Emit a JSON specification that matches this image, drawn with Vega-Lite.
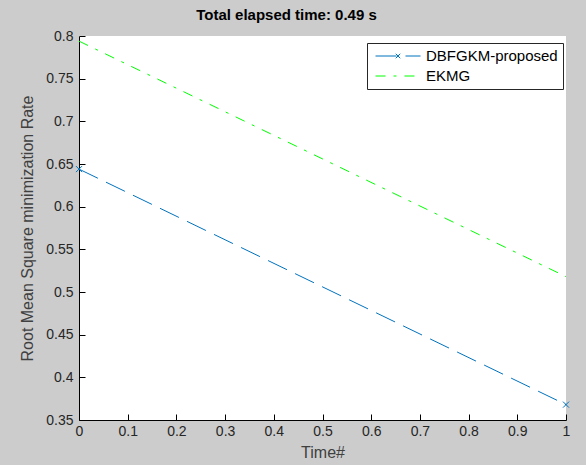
{
"$schema": "https://vega.github.io/schema/vega-lite/v6.json",
"width": 487,
"height": 384,
"autosize": {"type": "none"},
"padding": {"left": 79, "top": 36, "right": 20, "bottom": 45},
"background": "#cccccc",
"config": {"view": {"fill": "white", "stroke": null}, "font": "Liberation Sans"},
"title": {"text": "Total elapsed time: 0.49 s", "fontSize": 15, "fontWeight": "bold", "color": "#000000", "font": "Liberation Sans", "offset": 6, "dx": -36},
"data": {"values": [
 {"t": 0, "rate": 0.644, "method": "DBFGKM-proposed"},
 {"t": 1, "rate": 0.368, "method": "DBFGKM-proposed"},
 {"t": 0, "rate": 0.794, "method": "EKMG"},
 {"t": 1, "rate": 0.518, "method": "EKMG"}
]},
"layer": [
 {
  "mark": {"type": "line", "strokeWidth": 1, "clip": true},
  "encoding": {
   "x": {"field": "t", "type": "quantitative", "title": "Time#",
     "scale": {"domain": [0, 1], "nice": false, "zero": false},
     "axis": {"values": [0,0.1,0.2,0.3,0.4,0.5,0.6,0.7,0.8,0.9,1], "format": "~g", "grid": false, "labelFlush": false,
       "domainColor": "#000000", "tickColor": "#000000", "tickSize": -6, "labelPadding": 10,
       "labelFont": "Liberation Sans", "labelFontSize": 14, "labelColor": "#262626",
       "titleFont": "Liberation Sans", "titleFontSize": 16, "titleFontWeight": "normal", "titleColor": "#404040", "titlePadding": 6}},
   "y": {"field": "rate", "type": "quantitative", "title": "Root Mean Square minimization Rate",
     "scale": {"domain": [0.35, 0.8], "nice": false, "zero": false},
     "axis": {"values": [0.35,0.4,0.45,0.5,0.55,0.6,0.65,0.7,0.75,0.8], "format": "~g", "grid": false, "labelFlush": false,
       "domainColor": "#000000", "tickColor": "#000000", "tickSize": -6, "labelPadding": 12,
       "labelFont": "Liberation Sans", "labelFontSize": 14, "labelColor": "#262626",
       "titleFont": "Liberation Sans", "titleFontSize": 16, "titleFontWeight": "normal", "titleColor": "#404040", "titlePadding": 10}},
   "color": {"field": "method", "type": "nominal",
     "scale": {"domain": ["DBFGKM-proposed", "EKMG"], "range": ["#0072BD", "#00FF00"]},
     "legend": {"title": null, "orient": "none", "legendX": 288, "legendY": 7,
       "direction": "vertical", "fillColor": "#ffffff", "strokeColor": "#262626", "padding": 5,
       "symbolType": "stroke", "symbolSize": 2025, "symbolStrokeWidth": 1, "symbolOffset": 3, "labelOffset": 5,
       "clipHeight": 16, "rowPadding": 4,
       "labelFont": "Liberation Sans", "labelFontSize": 15, "labelColor": "#000000",
       "encode": {"symbols": {"update": {
         "shape": {"signal": "datum.value === 'EKMG' ? 'stroke' : 'M-1,0H1M-0.1,-0.1L0.1,0.1M-0.1,0.1L0.1,-0.1'"},
         "strokeDash": {"signal": "datum.value === 'EKMG' ? [8,5,2,5] : [1,0]"}
       }}}}},
   "strokeDash": {"field": "method", "type": "nominal",
     "scale": {"domain": ["DBFGKM-proposed", "EKMG"], "range": [[21, 9], [10, 8, 3, 8]]},
     "legend": null}
  }
 },
 {
  "transform": [{"filter": "datum.method === 'DBFGKM-proposed'"}],
  "mark": {"type": "point", "shape": "M-1,-1L1,1M-1,1L1,-1", "size": 36, "filled": false, "strokeWidth": 1, "color": "#0072BD", "opacity": 1},
  "encoding": {
   "x": {"field": "t", "type": "quantitative"},
   "y": {"field": "rate", "type": "quantitative"}
  }
 }
]
}
